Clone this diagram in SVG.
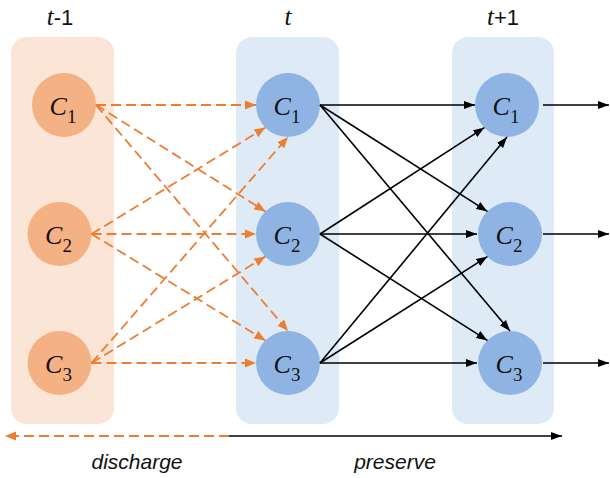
<svg xmlns="http://www.w3.org/2000/svg" width="610" height="478" viewBox="0 0 610 478">
<style>
.po{fill:#FBE5D6}
.pb{fill:#DEEBF7}
.co{fill:#F4B183}
.cb{fill:#8FB4E3}
.lab{font-family:"Liberation Serif","DejaVu Serif",serif;font-size:26px;fill:#111}
.lab .i{font-style:italic}
.lab .s{font-size:19px}
.hd{font-family:"Liberation Sans",Arial,sans-serif;font-size:22px;fill:#111}
.hd .i{font-family:"Liberation Serif",serif;font-style:italic;font-size:25px}
.bt{font-family:"Liberation Sans",Arial,sans-serif;font-style:italic;font-size:21px;fill:#111}
.od{stroke:#ED7D31;stroke-width:1.8;stroke-dasharray:10 5;fill:none;marker-end:url(#ao)}
.bk{stroke:#000;stroke-width:1.6;fill:none;marker-end:url(#ab)}
</style>
<defs>
<marker id="ao" markerUnits="userSpaceOnUse" markerWidth="12" markerHeight="10" viewBox="0 0 12 10" refX="11" refY="5" orient="auto">
<path d="M0,0.5 L11,5 L0,9.5 z" fill="#ED7D31"/>
</marker>
<marker id="ab" markerUnits="userSpaceOnUse" markerWidth="12" markerHeight="10" viewBox="0 0 12 10" refX="11" refY="5" orient="auto">
<path d="M0,1 L11,5 L0,9 z" fill="#000"/>
</marker>
</defs>

<g id="panel-t-1"><rect class="po" x="11" y="37" width="103" height="387" rx="16"/>
<text class="hd" x="60" y="25" text-anchor="middle"><tspan class="i">t</tspan>-1</text></g>
<g id="panel-t"><rect class="pb" x="236" y="37" width="103" height="387" rx="16"/>
<text class="hd" x="288" y="25" text-anchor="middle"><tspan class="i">t</tspan></text></g>
<g id="panel-t+1"><rect class="pb" x="452" y="37" width="102" height="387" rx="16"/>
<text class="hd" x="503" y="25" text-anchor="middle"><tspan class="i">t</tspan>+1</text></g>

<g id="L1"><circle class="co" cx="64" cy="105" r="32"/><text class="lab" x="63" y="115" text-anchor="middle"><tspan class="i">C</tspan><tspan class="s" dy="8">1</tspan></text></g>
<g id="L2"><circle class="co" cx="59.5" cy="234" r="32"/><text class="lab" x="58.5" y="244" text-anchor="middle"><tspan class="i">C</tspan><tspan class="s" dy="8">2</tspan></text></g>
<g id="L3"><circle class="co" cx="59.5" cy="363" r="32"/><text class="lab" x="58.5" y="373" text-anchor="middle"><tspan class="i">C</tspan><tspan class="s" dy="8">3</tspan></text></g>

<g id="M1"><circle class="cb" cx="288" cy="105" r="32"/><text class="lab" x="287" y="115" text-anchor="middle"><tspan class="i">C</tspan><tspan class="s" dy="8">1</tspan></text></g>
<g id="M2"><circle class="cb" cx="288" cy="234" r="32"/><text class="lab" x="287" y="244" text-anchor="middle"><tspan class="i">C</tspan><tspan class="s" dy="8">2</tspan></text></g>
<g id="M3"><circle class="cb" cx="288" cy="363" r="32"/><text class="lab" x="287" y="373" text-anchor="middle"><tspan class="i">C</tspan><tspan class="s" dy="8">3</tspan></text></g>

<g id="R1"><circle class="cb" cx="507" cy="105" r="32"/><text class="lab" x="506" y="115" text-anchor="middle"><tspan class="i">C</tspan><tspan class="s" dy="8">1</tspan></text></g>
<g id="R2"><circle class="cb" cx="510" cy="234" r="32"/><text class="lab" x="509" y="244" text-anchor="middle"><tspan class="i">C</tspan><tspan class="s" dy="8">2</tspan></text></g>
<g id="R3"><circle class="cb" cx="510" cy="363" r="32"/><text class="lab" x="509" y="373" text-anchor="middle"><tspan class="i">C</tspan><tspan class="s" dy="8">3</tspan></text></g>

<g id="connectors">
<line class="od" x1="96" y1="105" x2="256" y2="105"/>
<line class="od" x1="96" y1="105" x2="265.4" y2="211.4"/>
<line class="od" x1="96" y1="105" x2="288" y2="331"/>
<line class="od" x1="91.5" y1="234" x2="265.4" y2="127.6"/>
<line class="od" x1="91.5" y1="234" x2="256" y2="234"/>
<line class="od" x1="91.5" y1="234" x2="265.4" y2="340.4"/>
<line class="od" x1="91.5" y1="363" x2="288" y2="137"/>
<line class="od" x1="91.5" y1="363" x2="265.4" y2="256.6"/>
<line class="od" x1="91.5" y1="363" x2="256" y2="363"/>

<line class="bk" x1="320" y1="105" x2="475" y2="105"/>
<line class="bk" x1="320" y1="105" x2="487.4" y2="211.4"/>
<line class="bk" x1="320" y1="105" x2="510" y2="331"/>
<line class="bk" x1="320" y1="234" x2="484.4" y2="127.6"/>
<line class="bk" x1="320" y1="234" x2="477" y2="234"/>
<line class="bk" x1="320" y1="234" x2="487.4" y2="340.4"/>
<line class="bk" x1="320" y1="363" x2="507" y2="137"/>
<line class="bk" x1="320" y1="363" x2="487.4" y2="256.6"/>
<line class="bk" x1="320" y1="363" x2="477" y2="363"/>

<line class="bk" x1="543" y1="105" x2="609" y2="105"/>
<line class="bk" x1="543" y1="234" x2="609" y2="234"/>
<line class="bk" x1="543" y1="363" x2="609" y2="363"/>

<line class="od" x1="229" y1="436" x2="5" y2="436"/>
<line class="bk" x1="229" y1="436" x2="562" y2="436"/>
</g>

<text class="bt" x="137" y="469" text-anchor="middle">discharge</text>
<text class="bt" x="395" y="469" text-anchor="middle">preserve</text>
</svg>
